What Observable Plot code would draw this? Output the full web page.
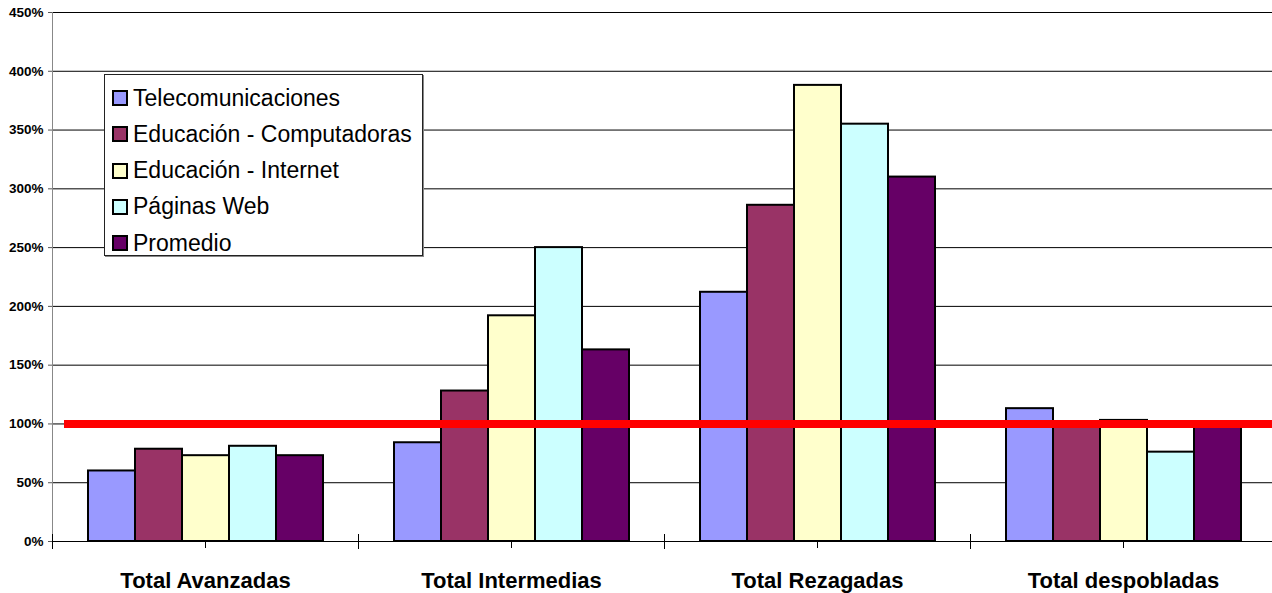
<!DOCTYPE html>
<html>
<head>
<meta charset="utf-8">
<script src="https://cdn.jsdelivr.net/npm/d3@7"></script>
<script src="https://cdn.jsdelivr.net/npm/@observablehq/plot@0.6"></script>
<style>
  html, body { margin: 0; padding: 0; background: #fff; }
  #wrap { position: relative; width: 1272px; height: 593px; overflow: hidden; font-family: "Liberation Sans", Arial, sans-serif; }
  #legend { position: absolute; left: 104px; top: 74px; width: 317px; height: 180px; background: #fff; border: 1px solid #222; box-shadow: 1px 1px 0 #888; }
  .item { position: absolute; left: 7px; height: 30px; display: flex; align-items: center; font-size: 23px; color: #000; white-space: nowrap; }
  .sw { width: 12px; height: 12px; border: 2px solid #000; margin-right: 5px; }
</style>
</head>
<body>
<div id="wrap"><div id="legend"></div></div>
<script>
const categories = ["Total Avanzadas", "Total Intermedias", "Total Rezagadas", "Total despobladas"];
const series = ["Telecomunicaciones", "Educación - Computadoras", "Educación - Internet", "Páginas Web", "Promedio"];
const colors = ["#9999FF", "#993366", "#FFFFCC", "#CCFFFF", "#660066"];
const telecomunicaciones = [60, 84, 212, 113];
const educacionComputadoras = [78.5, 128, 286, 99];
const educacionInternet = [73, 192, 388, 103];
const paginasWeb = [81, 250, 355, 76];
const promedio = [73, 163, 310, 98];
const yTicks = [0, 50, 100, 150, 200, 250, 300, 350, 400, 450];
const reference = 100;

const seriesValues = [telecomunicaciones, educacionComputadoras, educacionInternet, paginasWeb, promedio];
const data = [];
categories.forEach((c, i) => {
  series.forEach((s, j) => data.push({category: c, series: s, value: seriesValues[j][i]}));
});
const refFirst = [{category: categories[0], value: reference}];
const refRest = categories.slice(1).map(c => ({category: c, value: reference}));

const chart = Plot.plot({
  width: 1272,
  height: 593,
  marginTop: 12,
  marginBottom: 52,
  marginLeft: 51,
  marginRight: -5,
  style: {fontFamily: "'Liberation Sans', Arial, sans-serif", color: "#000", background: "#fff"},
  fx: {domain: categories, padding: 0, label: null},
  x: {domain: series, paddingInner: 0, paddingOuter: 0.745, axis: null},
  y: {domain: [0, 450], label: null, axis: null},
  color: {domain: series, range: colors},
  marks: [
    Plot.gridY(yTicks, {stroke: "#000", strokeOpacity: 1, strokeWidth: 1}),
    Plot.axisY({ticks: yTicks, facetAnchor: "left", tickFormat: d => d + "%", tickSize: 4, tickPadding: 5,
      fontSize: 13.5, fontWeight: "bold", stroke: "#555", label: null}),
    Plot.frame({anchor: "left", facetAnchor: "left", stroke: "#888"}),
    Plot.frame({anchor: "left", stroke: "#000", insetTop: 522, insetBottom: -7}),
    Plot.barY(data, {fx: "category", x: "series", y: "value", fill: "series", stroke: "#000", strokeWidth: 2}),
    Plot.ruleY([0], {stroke: "#000", strokeWidth: 1}),
    Plot.ruleY(refFirst, {fx: "category", y: "value", stroke: "#FF0000", strokeWidth: 8, insetLeft: 12}),
    Plot.ruleY(refRest, {fx: "category", y: "value", stroke: "#FF0000", strokeWidth: 8}),
    Plot.axisFx({anchor: "bottom", tickSize: 7, tickPadding: 24, fontSize: 22, fontWeight: "bold", label: null})
  ]
});
document.getElementById("wrap").prepend(chart);

const legend = document.getElementById("legend");
series.forEach((s, j) => {
  const it = document.createElement("div");
  it.className = "item";
  it.style.top = (8 + j * 36.3) + "px";
  it.innerHTML = `<span class="sw" style="background:${colors[j]}"></span><span>${s}</span>`;
  legend.appendChild(it);
});
</script>
</body>
</html>
